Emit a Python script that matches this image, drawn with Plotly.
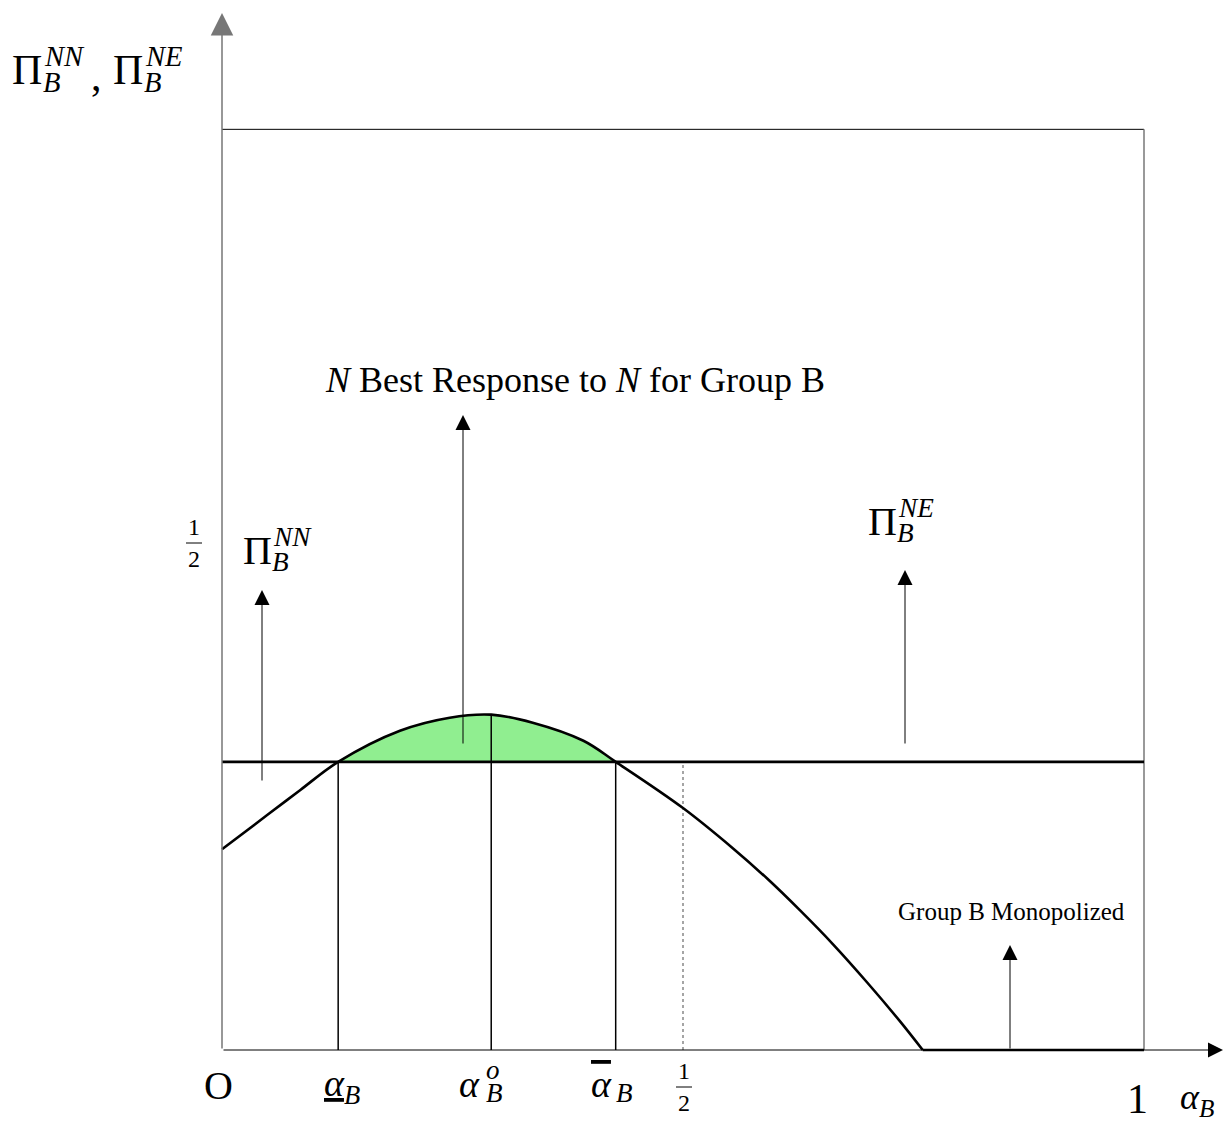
import plotly.graph_objects as go

# ---- data -------------------------------------------------------------
# Profit of group B when both play N (curve) as a function of alpha_B
alpha_nn = [0.0, 0.049, 0.085, 0.126, 0.193, 0.247, 0.292, 0.337, 0.392, 0.427,
            0.5, 0.554, 0.591, 0.627, 0.663, 0.70, 0.735, 0.76, 1.0]
profit_nn = [0.200, 0.234, 0.259, 0.287, 0.318, 0.331, 0.334, 0.326, 0.308, 0.287,
             0.241, 0.201, 0.171, 0.139, 0.105, 0.067, 0.029, 0.0, 0.0]

# Profit of group B when deviating to E (flat line)
alpha_ne = [0.0, 1.0]
profit_ne = [0.287, 0.287]

# Marked points on the alpha axis
alpha_low, alpha_opt, alpha_high, alpha_half = 0.126, 0.292, 0.427, 0.5
box_top = 0.917

# ---- pixel helpers for text placement (plot area == full page) ---------
W, H = 1226, 1124
X0, XS = 222, 922      # pixel of alpha=0, pixels per unit
Y0, YS = 1050, 1004    # pixel of profit=0, pixels per unit


def X(px):
    return (px - X0) / XS


def Y(py):
    return (Y0 - py) / YS


FONT = "Liberation Serif"
fig = go.Figure()

# green region where N is the best response
fill_x = [a for a in alpha_nn if alpha_low <= a <= alpha_high]
fill_y = [p for a, p in zip(alpha_nn, profit_nn) if alpha_low <= a <= alpha_high]
fig.add_trace(go.Scatter(x=[alpha_low, alpha_high], y=[profit_ne[0]] * 2,
                         mode="lines", line=dict(width=0), hoverinfo="skip"))
fig.add_trace(go.Scatter(x=fill_x, y=fill_y, mode="lines", fill="tonexty",
                         fillcolor="#90ee90",
                         line=dict(width=0, shape="spline", smoothing=1.0),
                         hoverinfo="skip"))

# frame
fig.add_trace(go.Scatter(x=[0, 1], y=[box_top, box_top], mode="lines",
                         line=dict(color="black", width=1), hoverinfo="skip"))
fig.add_trace(go.Scatter(x=[1, 1], y=[0, box_top], mode="lines",
                         line=dict(color="#777", width=1.5), hoverinfo="skip"))

# vertical guides
for a in (alpha_low, alpha_high):
    fig.add_trace(go.Scatter(x=[a, a], y=[0, profit_ne[0]], mode="lines",
                             line=dict(color="black", width=1.5), hoverinfo="skip"))
fig.add_trace(go.Scatter(x=[alpha_opt, alpha_opt], y=[0, max(profit_nn)], mode="lines",
                         line=dict(color="black", width=1.5), hoverinfo="skip"))
fig.add_trace(go.Scatter(x=[alpha_half, alpha_half], y=[0, profit_ne[0]], mode="lines",
                         line=dict(color="#888", width=1.5, dash="dot"), hoverinfo="skip"))

# profit curves: smooth part until profit hits zero, then the flat part
k = profit_nn.index(0.0)
fig.add_trace(go.Scatter(x=alpha_ne, y=profit_ne, mode="lines",
                         line=dict(color="black", width=2.6), hoverinfo="skip"))
fig.add_trace(go.Scatter(x=alpha_nn[:k + 1], y=profit_nn[:k + 1], mode="lines",
                         line=dict(color="black", width=2.6, shape="spline", smoothing=1.0),
                         hoverinfo="skip"))
fig.add_trace(go.Scatter(x=alpha_nn[k:], y=profit_nn[k:], mode="lines",
                         line=dict(color="black", width=2.6), hoverinfo="skip"))

ann = []


def arrow(x, y0, x1, y1, color="black", width=1):
    ann.append(dict(x=x1, y=y1, ax=x, ay=y0, xref="x", yref="y", axref="x", ayref="y",
                    text="", showarrow=True, arrowhead=2, arrowsize=3,
                    arrowwidth=width, arrowcolor=color, standoff=0))


# axes
arrow(0, 0, X(1223), 0)
arrow(0, 0, 0, Y(13), color="#777", width=1.5)

# pointer arrows
arrow(X(262), Y(782), X(262), Y(590))
arrow(X(463), Y(745), X(463), Y(415))
arrow(X(905), Y(745), X(905), Y(570))
arrow(X(1010), 0, X(1010), Y(945))


def txt(px, py, s, size, italic=False, anchor="center", yanchor="middle"):
    if italic:
        s = "<i>" + s + "</i>"
    ann.append(dict(x=X(px), y=Y(py), xref="x", yref="y", text=s, showarrow=False,
                    xanchor=anchor, yanchor=yanchor,
                    font=dict(family=FONT, size=size, color="black")))


def pi_label(px, py, sup, size):
    # Pi with subscript B and superscript stacked to its right
    txt(px, py, "Π", size)
    txt(px + 0.33 * size, py + 0.30 * size, "B", 0.68 * size, italic=True, anchor="left")
    txt(px + 0.35 * size, py - 0.33 * size, sup, 0.68 * size, italic=True, anchor="left")


def half(px, bar_py, size=24):
    # stacked 1/2 with a fraction bar
    txt(px, bar_py - 1, "1", size, yanchor="bottom")
    txt(px, bar_py + 1, "2", size, yanchor="top")
    shapes.append(dict(type="line", xref="x", yref="y", x0=X(px - 8), x1=X(px + 8),
                       y0=Y(bar_py), y1=Y(bar_py), line=dict(color="black", width=1)))


shapes = []

pi_label(27, 70, "NN", 42)
txt(96, 76, ",", 42)
pi_label(128, 70, "NE", 42)
pi_label(257, 550, "NN", 40)
pi_label(882, 521, "NE", 40)

txt(575, 380, "<i>N</i> Best Response to <i>N</i> for Group B", 36)
txt(1011, 911, "Group B Monopolized", 25)

# tick labels on the horizontal axis
txt(218, 1085, "O", 40)
txt(342, 1086, "<u>α</u><sub>B</sub>", 38, italic=True)
txt(469, 1084, "α", 38, italic=True)
txt(484, 1070, "o", 27, italic=True, anchor="left")
txt(484, 1093, "B", 27, italic=True, anchor="left")
txt(601, 1084, "<span style='text-decoration:overline'>α</span>", 38, italic=True)
txt(614, 1093, "B", 27, italic=True, anchor="left")
half(684, 1087)
txt(1137, 1124, "1", 42, yanchor="bottom")
txt(1197, 1124, "α<sub>B</sub>", 36, italic=True, yanchor="bottom")

# tick label on the vertical axis
half(194, 543)

fig.update_layout(
    width=W, height=H, autosize=False,
    margin=dict(l=0, r=0, t=0, b=0),
    paper_bgcolor="white", plot_bgcolor="white",
    showlegend=False, annotations=ann, shapes=shapes,
    xaxis=dict(range=[X(0), X(W)], visible=False, fixedrange=True),
    yaxis=dict(range=[Y(H), Y(0)], visible=False, fixedrange=True),
)

fig.write_html("out.html")
